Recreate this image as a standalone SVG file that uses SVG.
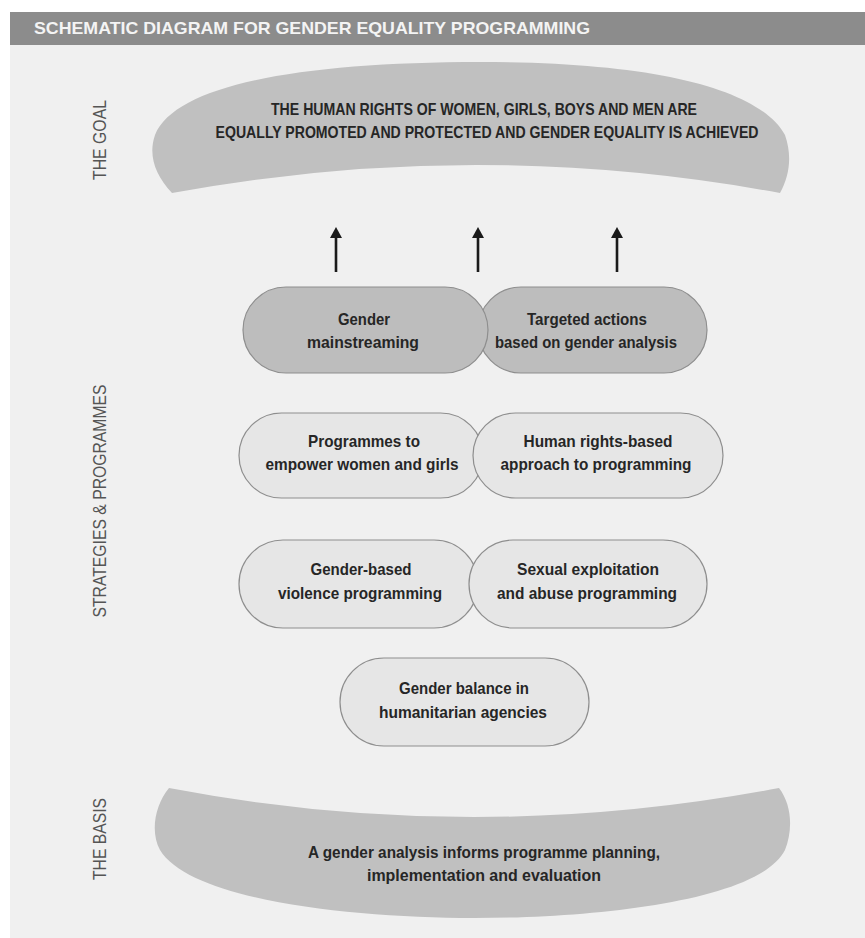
<svg xmlns="http://www.w3.org/2000/svg" width="865" height="938" viewBox="0 0 865 938">
<defs>
<style>
.hdr{font-family:"Liberation Sans Narrow","Liberation Sans",Arial,sans-serif;font-weight:bold;font-size:17px;fill:#f4f4f4}
.side{font-family:"Liberation Sans Narrow","Liberation Sans",Arial,sans-serif;font-size:18px;fill:#555555;text-anchor:middle}
.big{font-family:"Liberation Sans Narrow","Liberation Sans",Arial,sans-serif;font-weight:bold;font-size:16.5px;fill:#262626;text-anchor:middle}
.t{font-family:"Liberation Sans Narrow","Liberation Sans",Arial,sans-serif;font-weight:bold;font-size:17px;fill:#262626;text-anchor:middle}
.band{fill:#c0c0c0}
.dark{fill:#bdbdbd;stroke:#8e8e8e;stroke-width:1.2}
.light{fill:#e6e6e6;stroke:#8e8e8e;stroke-width:1.2}
.arr{stroke:#1a1a1a;stroke-width:2.6;fill:none;marker-end:url(#ah)}
</style>
<marker id="ah" viewBox="0 0 11 12" refX="0" refY="6" markerWidth="11" markerHeight="12" markerUnits="userSpaceOnUse" orient="auto">
<path d="M0,0 L11,6 L0,12 Z" fill="#1a1a1a"/>
</marker>
</defs>
<rect x="0" y="0" width="865" height="938" fill="#ffffff"/>
<rect x="10" y="45" width="855" height="893" fill="#f0f0f0"/>
<g id="header">
<rect x="10" y="12" width="855" height="33" fill="#8c8c8c"/>
<text class="hdr" x="34" y="34" textLength="556" lengthAdjust="spacingAndGlyphs">SCHEMATIC DIAGRAM FOR GENDER EQUALITY PROGRAMMING</text>
</g>
<g id="side-labels">
<text class="side" transform="translate(106 140) rotate(-90)" textLength="80" lengthAdjust="spacingAndGlyphs">THE GOAL</text>
<text class="side" transform="translate(106 501) rotate(-90)" textLength="233" lengthAdjust="spacingAndGlyphs">STRATEGIES &amp; PROGRAMMES</text>
<text class="side" transform="translate(106 839) rotate(-90)" textLength="82" lengthAdjust="spacingAndGlyphs">THE BASIS</text>
</g>
<g id="goal">
<path class="band" d="M172,193 C155,175 148,155 155,135 C175,85 300,62 480,62 C660,62 760,90 785,135 C792,155 790,175 780,193 Q476,137 172,193 Z"/>
<text class="big" x="484" y="115" textLength="426" lengthAdjust="spacingAndGlyphs">THE HUMAN RIGHTS OF WOMEN, GIRLS, BOYS AND MEN ARE</text>
<text class="big" x="487" y="138" textLength="543" lengthAdjust="spacingAndGlyphs">EQUALLY PROMOTED AND PROTECTED AND GENDER EQUALITY IS ACHIEVED</text>
</g>
<g id="connectors">
<line class="arr" x1="336" y1="272" x2="336" y2="238"/>
<line class="arr" x1="478" y1="272" x2="478" y2="238"/>
<line class="arr" x1="617" y1="272" x2="617" y2="238"/>
</g>
<g id="targeted-actions">
<rect class="dark" x="478" y="287" width="229" height="86" rx="43"/>
<text class="t" x="587" y="325" textLength="120" lengthAdjust="spacingAndGlyphs">Targeted actions</text>
<text class="t" x="586" y="348" textLength="182" lengthAdjust="spacingAndGlyphs">based on gender analysis</text>
</g>
<g id="gender-mainstreaming">
<rect class="dark" x="243" y="287" width="245" height="86" rx="43"/>
<text class="t" x="364" y="325" textLength="52" lengthAdjust="spacingAndGlyphs">Gender</text>
<text class="t" x="363" y="348" textLength="112" lengthAdjust="spacingAndGlyphs">mainstreaming</text>
</g>
<g id="empower-women">
<rect class="light" x="239" y="413" width="244" height="85" rx="42.5"/>
<text class="t" x="364" y="447" textLength="112" lengthAdjust="spacingAndGlyphs">Programmes to</text>
<text class="t" x="362" y="470" textLength="193" lengthAdjust="spacingAndGlyphs">empower women and girls</text>
</g>
<g id="human-rights">
<rect class="light" x="473" y="413" width="250" height="85" rx="42.5"/>
<text class="t" x="598" y="447" textLength="149" lengthAdjust="spacingAndGlyphs">Human rights-based</text>
<text class="t" x="596" y="470" textLength="191" lengthAdjust="spacingAndGlyphs">approach to programming</text>
</g>
<g id="gbv">
<rect class="light" x="239" y="540" width="239" height="88" rx="44"/>
<text class="t" x="361" y="575" textLength="101" lengthAdjust="spacingAndGlyphs">Gender-based</text>
<text class="t" x="360" y="599" textLength="164" lengthAdjust="spacingAndGlyphs">violence programming</text>
</g>
<g id="sea">
<rect class="light" x="469" y="540" width="238" height="88" rx="44"/>
<text class="t" x="588" y="575" textLength="142" lengthAdjust="spacingAndGlyphs">Sexual exploitation</text>
<text class="t" x="587" y="599" textLength="180" lengthAdjust="spacingAndGlyphs">and abuse programming</text>
</g>
<g id="gender-balance">
<rect class="light" x="340" y="658" width="249" height="88" rx="44"/>
<text class="t" x="464" y="694" textLength="130" lengthAdjust="spacingAndGlyphs">Gender balance in</text>
<text class="t" x="463" y="718" textLength="168" lengthAdjust="spacingAndGlyphs">humanitarian agencies</text>
</g>
<g id="basis">
<path class="band" d="M169,788 Q474,846 779,788 C792,805 793,830 785,850 C760,900 600,918 474,918 C350,918 190,900 160,850 C150,832 155,805 169,788 Z"/>
<text class="t" x="484" y="858" textLength="352" lengthAdjust="spacingAndGlyphs">A gender analysis informs programme planning,</text>
<text class="t" x="484" y="881" textLength="234" lengthAdjust="spacingAndGlyphs">implementation and evaluation</text>
</g>
</svg>
